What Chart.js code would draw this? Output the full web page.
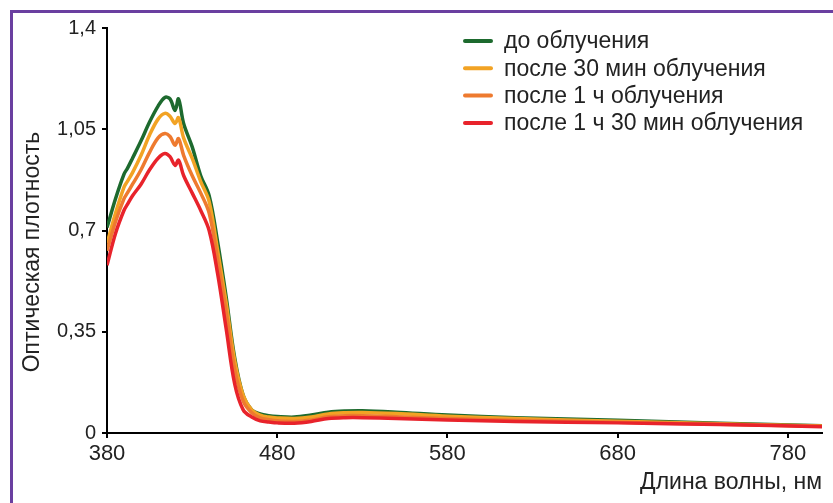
<!DOCTYPE html>
<html>
<head>
<meta charset="utf-8">
<script src="https://cdn.jsdelivr.net/npm/chart.js@4.4.0/dist/chart.umd.min.js"></script>
<style>
    html, body { margin: 0; padding: 0; background: #fff; }
    .wrap { position: relative; width: 833px; height: 503px; overflow: hidden; }
    .frame { position: absolute; left: 10px; top: 10px; width: 900px; height: 600px;
             border-left: 3px solid #6a3fa0; border-top: 3px solid #6a3fa0; }
    canvas { position: absolute; left: 0; top: 0; }
</style>
</head>
<body>
<div class="wrap">
    <div class="frame"></div>
    <canvas id="spectrum" width="833" height="503"></canvas>
</div>
<script>
// Data
const wavelengths = [380, 385, 390, 392, 395, 400, 405, 410, 414, 417, 420, 422, 425, 430, 435, 440, 445, 450, 455, 460, 465, 470, 475, 480, 490, 500, 510, 520, 530, 550, 580, 620, 680, 740, 800];

const beforeIrradiation = [0.71, 0.81, 0.895, 0.915, 0.95, 1.01, 1.075, 1.13, 1.16, 1.155, 1.115, 1.155, 1.07, 0.99, 0.89, 0.82, 0.66, 0.47, 0.26, 0.13, 0.08, 0.066, 0.06, 0.057, 0.055, 0.062, 0.072, 0.076, 0.077, 0.072, 0.062, 0.053, 0.044, 0.034, 0.025];
const after30min = [0.655, 0.76, 0.85, 0.87, 0.9, 0.96, 1.03, 1.085, 1.105, 1.095, 1.07, 1.09, 1.02, 0.95, 0.87, 0.8, 0.63, 0.45, 0.25, 0.13, 0.08, 0.062, 0.055, 0.052, 0.05, 0.055, 0.066, 0.07, 0.071, 0.067, 0.058, 0.05, 0.041, 0.032, 0.024];
const after1h = [0.63, 0.73, 0.81, 0.83, 0.86, 0.91, 0.97, 1.02, 1.035, 1.025, 0.995, 1.018, 0.96, 0.89, 0.83, 0.76, 0.6, 0.42, 0.22, 0.11, 0.07, 0.052, 0.046, 0.042, 0.04, 0.045, 0.056, 0.06, 0.06, 0.056, 0.05, 0.044, 0.037, 0.03, 0.023];
const after1h30min = [0.58, 0.69, 0.77, 0.79, 0.82, 0.86, 0.91, 0.95, 0.966, 0.955, 0.925, 0.943, 0.89, 0.83, 0.77, 0.7, 0.55, 0.36, 0.17, 0.08, 0.055, 0.042, 0.038, 0.035, 0.034, 0.04, 0.05, 0.053, 0.053, 0.05, 0.045, 0.04, 0.035, 0.029, 0.022];

const seriesLabels = ["до облучения", "после 30 мин облучения", "после 1 ч облучения", "после 1 ч 30 мин облучения"];
const seriesColors = ["#1d6a2e", "#f2a324", "#ee7a2f", "#e8232b"];

const xTicks = [380, 480, 580, 680, 780];
const yTicks = [0, 0.35, 0.7, 1.05, 1.4];
const yTickLabels = ["0", "0,35", "0,7", "1,05", "1,4"];

const xTitle = "Длина волны, нм";
const yTitle = "Оптическая плотность";

// Helpers
const FONT = "'Liberation Sans', Arial, sans-serif";
const toPoints = (values) => wavelengths.map((w, i) => ({x: w, y: values[i]}));
const allSeries = [beforeIrradiation, after30min, after1h, after1h30min];

// Plugins
const sideLegend = {
    id: "sideLegend",
    afterDraw(chart) {
        const ctx = chart.ctx;
        ctx.save();
        ctx.font = "23px " + FONT;
        ctx.textBaseline = "middle";
        chart.data.datasets.forEach((ds, i) => {
            const y = 41 + i * 27.3;
            ctx.strokeStyle = ds.borderColor;
            ctx.lineWidth = 4;
            ctx.lineCap = "round";
            ctx.beginPath();
            ctx.moveTo(465, y);
            ctx.lineTo(491, y);
            ctx.stroke();
            ctx.fillStyle = "#222";
            ctx.fillText(ds.label, 504, y + 1);
        });
        ctx.restore();
    }
};

const yAxisTitle = {
    id: "yAxisTitle",
    afterDraw(chart) {
        const ctx = chart.ctx;
        ctx.save();
        ctx.translate(33, 252);
        ctx.rotate(-Math.PI / 2);
        ctx.font = "23px " + FONT;
        ctx.fillStyle = "#222";
        ctx.textAlign = "center";
        ctx.textBaseline = "middle";
        ctx.fillText(yTitle, 0, 0);
        ctx.restore();
    }
};

// Chart
new Chart(document.querySelector("#spectrum"), {
    type: "line",
    data: {
        datasets: allSeries.map((values, i) => ({
            label: seriesLabels[i],
            data: toPoints(values),
            borderColor: seriesColors[i],
            backgroundColor: seriesColors[i],
            borderWidth: 3.5,
            pointRadius: 0,
            tension: 0.35,
            order: allSeries.length - i
        }))
    },
    options: {
        responsive: false,
        animation: false,
        layout: {padding: {top: 28, right: 11, left: 0, bottom: 0}},
        plugins: {
            legend: {display: false},
            tooltip: {enabled: false}
        },
        scales: {
            x: {
                type: "linear",
                min: 380,
                max: 800,
                afterBuildTicks: (scale) => { scale.ticks = xTicks.map(v => ({value: v})); },
                afterFit: (scale) => { scale.height = 70; },
                ticks: {
                    color: "#222",
                    font: {family: FONT, size: 22},
                    padding: 3,
                    maxRotation: 0,
                    autoSkip: false
                },
                grid: {drawOnChartArea: false, drawTicks: true, tickLength: 5, color: "#000", lineWidth: 2},
                border: {color: "#000", width: 2},
                title: {
                    display: true,
                    text: xTitle,
                    align: "end",
                    color: "#222",
                    font: {family: FONT, size: 23},
                    padding: {top: 0, bottom: 7}
                }
            },
            y: {
                min: 0,
                max: 1.4,
                afterBuildTicks: (scale) => { scale.ticks = yTicks.map(v => ({value: v})); },
                afterFit: (scale) => { scale.width = 107; },
                ticks: {
                    color: "#222",
                    font: {family: FONT, size: 20},
                    padding: 6,
                    callback: (value) => yTickLabels[yTicks.indexOf(value)]
                },
                grid: {drawOnChartArea: false, drawTicks: true, tickLength: 5, color: "#000", lineWidth: 2},
                border: {color: "#000", width: 2}
            }
        }
    },
    plugins: [sideLegend, yAxisTitle]
});
</script>
</body>
</html>
